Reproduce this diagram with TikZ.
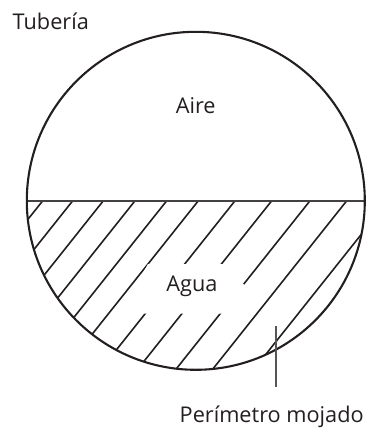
\documentclass[tikz,border=0pt]{standalone}
\usepackage{fontspec}
\setmainfont{Open Sans}
\definecolor{ink}{HTML}{231F20}
\definecolor{leader}{HTML}{555555}
\begin{document}
\begin{tikzpicture}[x=1pt,y=-1pt,
  lbl/.style={inner sep=0pt,text=ink,font=\fontsize{21.7}{26}\selectfont},
  hatch/.style={draw=ink,line width=1.6pt},
  pipe/.style={draw=ink,line width=2.1pt},
  level/.style={draw=ink!85,line width=1.5pt},
  leaderline/.style={draw=leader,line width=1.2pt}]
\useasboundingbox (0,0) rectangle (378,431);
\coordinate (c) at (195.8,200.8);
% hatching of the water, clipped to the lower half of the pipe
\begin{scope}
  \clip (c) circle[radius=169pt];
  \clip (26,200.8) rectangle (366,380);
  \foreach \x in {42.7,72.7,103.3,135,166.7,198.3,235,271.7,310,346.7,388}
    \draw[hatch] (\x,200.8) -- ++(-300,377);
\end{scope}
% gap in the hatching round the label
\fill[white] (148,264) -- (222,264) -- (245,285.5) -- (222,313.5) -- (144,313.5) -- (140,278) -- cycle;
% water level and pipe
\coordinate (wl) at (26.8,200.8);
\coordinate (wr) at (364.8,200.8);
\draw[level] (wl) -- (wr);
\draw[pipe] (c) circle[radius=169pt];
% labels
\node[lbl,anchor=base west] (tub) at (12.5,29.3) {Tubería};
\node[lbl,anchor=base] (aire) at (195.7,113.3) {Aire};
\node[lbl,anchor=base] (agua) at (192,291.7) {Agua};
\node[lbl,anchor=base west] (per) at (179.5,422.7) {Perímetro mojado};
\coordinate (lt) at (276,326);
\coordinate (lb) at (276,386.5);
\draw[leaderline] (lt) -- (lb);
\end{tikzpicture}
\end{document}
